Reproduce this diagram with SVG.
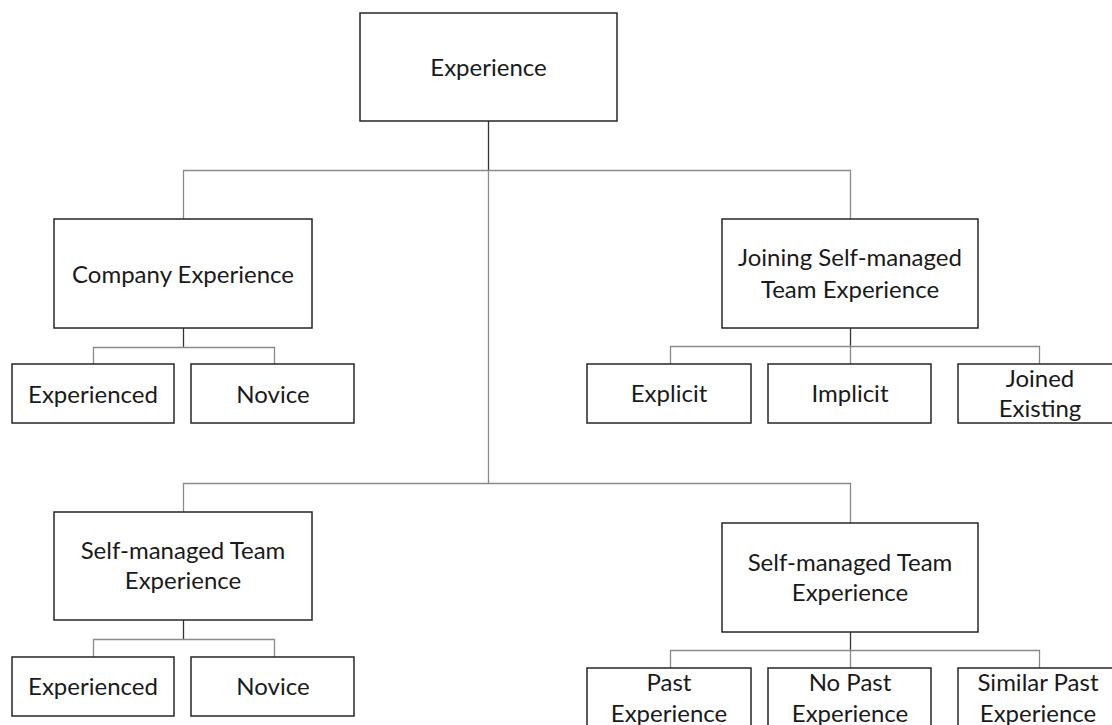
<svg xmlns="http://www.w3.org/2000/svg" width="1112" height="725" viewBox="0 0 1112 725">
<style>
.box{fill:#fff;stroke:#262626;stroke-width:1.5}
.ln{fill:none;stroke:#8a8a8a;stroke-width:1.3}
.stub{fill:none;stroke:#333;stroke-width:1.3}
text{font-family:"Lato","Open Sans",sans-serif;font-size:24px;fill:#1a1a1a;text-anchor:middle}
</style>
<rect width="1112" height="725" fill="#fff"/>
<g id="connectors">
<path class="stub" d="M488.5 121V170"/>
<path class="ln" d="M488.5 170V483"/>
<path class="ln" d="M183.5 219V170.5H850.5V219"/>
<path class="ln" d="M183.5 512V483.5H850.5V523"/>
<path class="stub" d="M183.5 328V347"/>
<path class="ln" d="M93.5 364V347.5H274.5V364"/>
<path class="stub" d="M183.5 620V639"/>
<path class="ln" d="M93.5 657V639.5H274.5V657"/>
<path class="stub" d="M850.5 328V346"/>
<path class="ln" d="M670.5 364V346.5H1039.5V364M850.5 346V364"/>
<path class="stub" d="M850.5 632V650"/>
<path class="ln" d="M670.5 668V650.5H1039.5V668M850.5 650V668"/>
</g>
<g id="n-root"><rect class="box" x="360" y="13" width="257" height="108"/><text x="488.5" y="76">Experience</text></g>
<g id="n-company"><rect class="box" x="54" y="219" width="258" height="109"/><text x="183" y="283">Company Experience</text></g>
<g id="n-joining"><rect class="box" x="722" y="219" width="256" height="109"/><text x="850" y="266">Joining Self-managed</text><text x="850" y="298">Team Experience</text></g>
<g id="n-smt-left"><rect class="box" x="54" y="512" width="258" height="108"/><text x="183" y="559">Self-managed Team</text><text x="183" y="589">Experience</text></g>
<g id="n-smt-right"><rect class="box" x="722" y="523" width="256" height="109"/><text x="850" y="571">Self-managed Team</text><text x="850" y="601">Experience</text></g>
<g id="n-exp1"><rect class="box" x="12" y="364" width="162" height="59"/><text x="93" y="403">Experienced</text></g>
<g id="n-nov1"><rect class="box" x="191" y="364" width="163" height="59"/><text x="273" y="403">Novice</text></g>
<g id="n-explicit"><rect class="box" x="587" y="364" width="164" height="59"/><text x="669" y="402">Explicit</text></g>
<g id="n-implicit"><rect class="box" x="768" y="364" width="163" height="59"/><text x="850" y="402">Implicit</text></g>
<g id="n-joined"><rect class="box" x="958" y="364" width="164" height="59"/><text x="1040" y="387">Joined</text><text x="1040" y="417">Existing</text></g>
<g id="n-exp2"><rect class="box" x="12" y="657" width="162" height="59"/><text x="93" y="695">Experienced</text></g>
<g id="n-nov2"><rect class="box" x="191" y="657" width="163" height="59"/><text x="273" y="695">Novice</text></g>
<g id="n-past"><rect class="box" x="587" y="668" width="164" height="60"/><text x="669" y="691">Past</text><text x="669" y="722">Experience</text></g>
<g id="n-nopast"><rect class="box" x="768" y="668" width="163" height="60"/><text x="850" y="691">No Past</text><text x="850" y="722">Experience</text></g>
<g id="n-similar"><rect class="box" x="958" y="668" width="164" height="60"/><text x="1038" y="691">Similar Past</text><text x="1038" y="722">Experience</text></g>
</svg>
